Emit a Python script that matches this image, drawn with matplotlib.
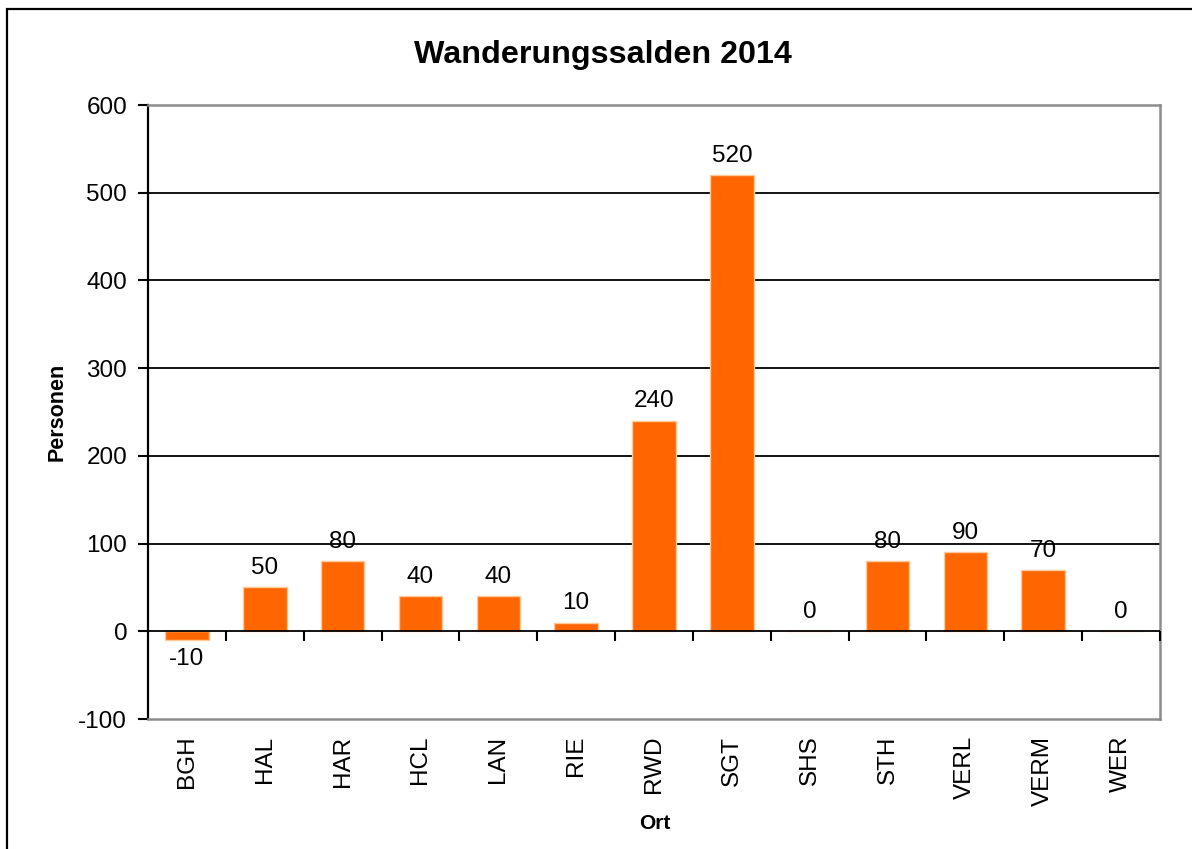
import matplotlib
matplotlib.use("Agg")
import matplotlib.pyplot as plt
from matplotlib.patches import Rectangle

categories = ["BGH", "HAL", "HAR", "HCL", "LAN", "RIE", "RWD", "SGT", "SHS", "STH", "VERL", "VERM", "WER"]
values = [-10, 50, 80, 40, 40, 10, 240, 520, 0, 80, 90, 70, 0]
yticks = [-100, 0, 100, 200, 300, 400, 500, 600]

plt.rcParams['font.family'] = ['Liberation Sans', 'DejaVu Sans']

W, H = 1192, 849
fig = plt.figure(figsize=(W / 100, H / 100), dpi=100)
fig.patch.set_facecolor("white")

# outer chart border (cropped at right / bottom)
fig.patches.append(Rectangle((7 / W, -0.1), 1.2, 1 - 9 / H + 0.1, transform=fig.transFigure,
                             fill=False, edgecolor="black", linewidth=1.6))

ax = fig.add_axes([148 / W, 1 - 719 / H, (1160 - 148) / W, (719 - 105) / H])

x = list(range(len(categories)))
bars = ax.bar(x, values, width=0.56, color="#FF6600", edgecolor="#FFC899", linewidth=1.0, zorder=3)

ax.set_xlim(-0.5, len(categories) - 0.5)
ax.set_ylim(yticks[0], yticks[-1])
ax.set_yticks(yticks)
ax.set_yticklabels([str(v) for v in yticks])

# gridlines
for v in yticks[1:-1]:
    ax.axhline(v, color="black", linewidth=1.3, zorder=4 if v == 0 else 1)

# boundary ticks on the zero line
bounds = [i + 0.5 for i in x]
ax.plot(bounds, [0] * len(bounds), linestyle="none", marker=3, markersize=7,
        markeredgewidth=1.5, color="black", zorder=4, clip_on=False)

FS = 17.5
ax.set_xticks(x)
ax.set_xticklabels(categories, rotation=90, fontsize=FS)
ax.tick_params(axis="x", length=0, pad=12)
ax.tick_params(axis="y", length=7, width=1.5, direction="out", labelsize=FS, pad=8, color="black")

for s in ["top", "right", "bottom"]:
    ax.spines[s].set_color("#8c8c8c")
    ax.spines[s].set_linewidth(1.8)
ax.spines["left"].set_color("black")
ax.spines["left"].set_linewidth(1.6)

ax.bar_label(bars, labels=[str(v) for v in values], padding=6, fontsize=FS)

ax.set_ylabel("Personen", fontsize=15.5, fontweight="bold")
ax.yaxis.set_label_coords(-0.079, 0.5)
ax.set_xlabel("Ort", fontsize=15, fontweight="bold")
ax.xaxis.set_label_coords(0.501, -0.155)

fig.text(602.5 / W, 1 - 63 / H, "Wanderungssalden 2014", fontsize=23.2, fontweight="bold",
         ha="center", va="baseline")

fig.savefig("out.png", dpi=100)
